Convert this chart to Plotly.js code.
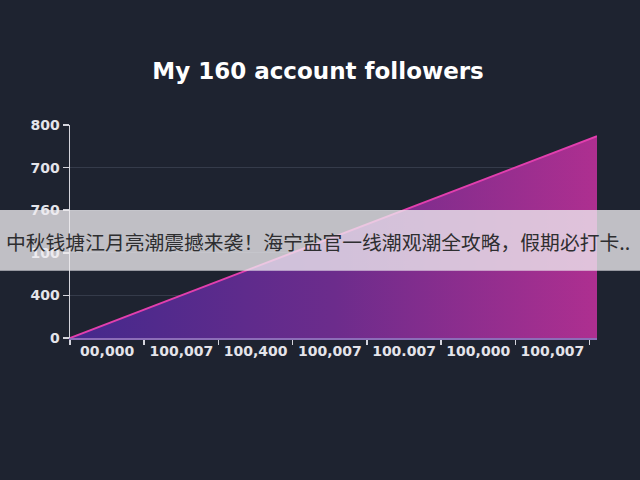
<!DOCTYPE html>
<html>
<head>
<meta charset="utf-8">
<script src="https://cdn.plot.ly/plotly-3.0.1.min.js"></script>
<style>
  html, body { margin: 0; padding: 0; background: #1e2330; }
  #chart { width: 640px; height: 480px; }
</style>
</head>
<body>
<div id="chart"></div>
<script>
// values (y in axis units, ticks are every 160)
var xPos = [0, 7.1]
var followers = [0, 758]

var xLabelPos = [0.5, 1.5, 2.5, 3.5, 4.5, 5.5, 6.5]
var xLabels = ['00,000', '100,007', '100,400', '100,007', '100.007', '100,000', '100,007']
var xBounds = [0, 1, 2, 3, 4, 5, 6, 7]

var yTickVals = [0, 160, 320, 480, 640, 800]
var yTickText = ['0', '400', '100', '760', '700', '800']

var bannerText = '中秋钱塘江月亮潮震撼来袭！海宁盐官一线潮观潮全攻略，假期必打卡..'

var bg = '#1e2330'
var tickFont = { family: 'DejaVu Sans', size: 14, color: '#e4e4ea', weight: 600 }

var data = [{
  x: xPos,
  y: followers,
  type: 'scatter',
  mode: 'lines',
  line: { color: '#e23fae', width: 2 },
  fill: 'tozeroy',
  fillgradient: {
    type: 'horizontal',
    colorscale: [[0, '#44298c'], [0.5, '#6c2c8c'], [1, '#ae2f90']]
  },
  hoverinfo: 'skip'
}]

var layout = {
  width: 640,
  height: 480,
  paper_bgcolor: bg,
  plot_bgcolor: bg,
  showlegend: false,
  margin: { l: 70, r: 43, t: 125, b: 142 },
  title: {
    text: 'My 160 account followers',
    font: { family: 'DejaVu Sans', size: 23, color: '#ffffff', weight: 700 },
    x: 0.497,
    xanchor: 'center',
    y: 0.852,
    yanchor: 'middle'
  },
  xaxis: {
    range: [0, 7.1],
    tickvals: xLabelPos,
    ticktext: xLabels,
    ticks: '',
    tickfont: tickFont,
    showgrid: false,
    zeroline: false,
    showline: true,
    linecolor: '#8c6db8',
    linewidth: 1.5,
    minor: {
      tickvals: xBounds,
      ticks: 'outside',
      ticklen: 5,
      tickwidth: 1.5,
      tickcolor: '#d4d4dc',
      showgrid: false
    }
  },
  yaxis: {
    range: [0, 800],
    tickvals: yTickVals,
    ticktext: yTickText,
    ticks: 'outside',
    ticklen: 6,
    tickwidth: 1.5,
    tickcolor: '#d4d4dc',
    tickfont: tickFont,
    showgrid: true,
    gridcolor: '#353b4a',
    gridwidth: 1,
    zeroline: false,
    showline: true,
    linecolor: '#d4d4dc',
    linewidth: 1.5
  },
  shapes: [{
    type: 'rect',
    xref: 'paper', yref: 'paper',
    x0: -0.14, x1: 1.09,
    y0: 0.316, y1: 0.601,
    fillcolor: 'rgba(238,236,240,0.78)',
    line: { width: 0 },
    layer: 'above'
  }],
  annotations: [{
    text: bannerText,
    xref: 'paper', yref: 'paper',
    x: -0.126, y: 0.455,
    xanchor: 'left', yanchor: 'middle',
    showarrow: false,
    font: { family: 'Noto Sans CJK SC', size: 19.8, color: '#2e2e30' }
  }]
}

Plotly.newPlot('chart', data, layout, { displayModeBar: false, staticPlot: true })
</script>
</body>
</html>
